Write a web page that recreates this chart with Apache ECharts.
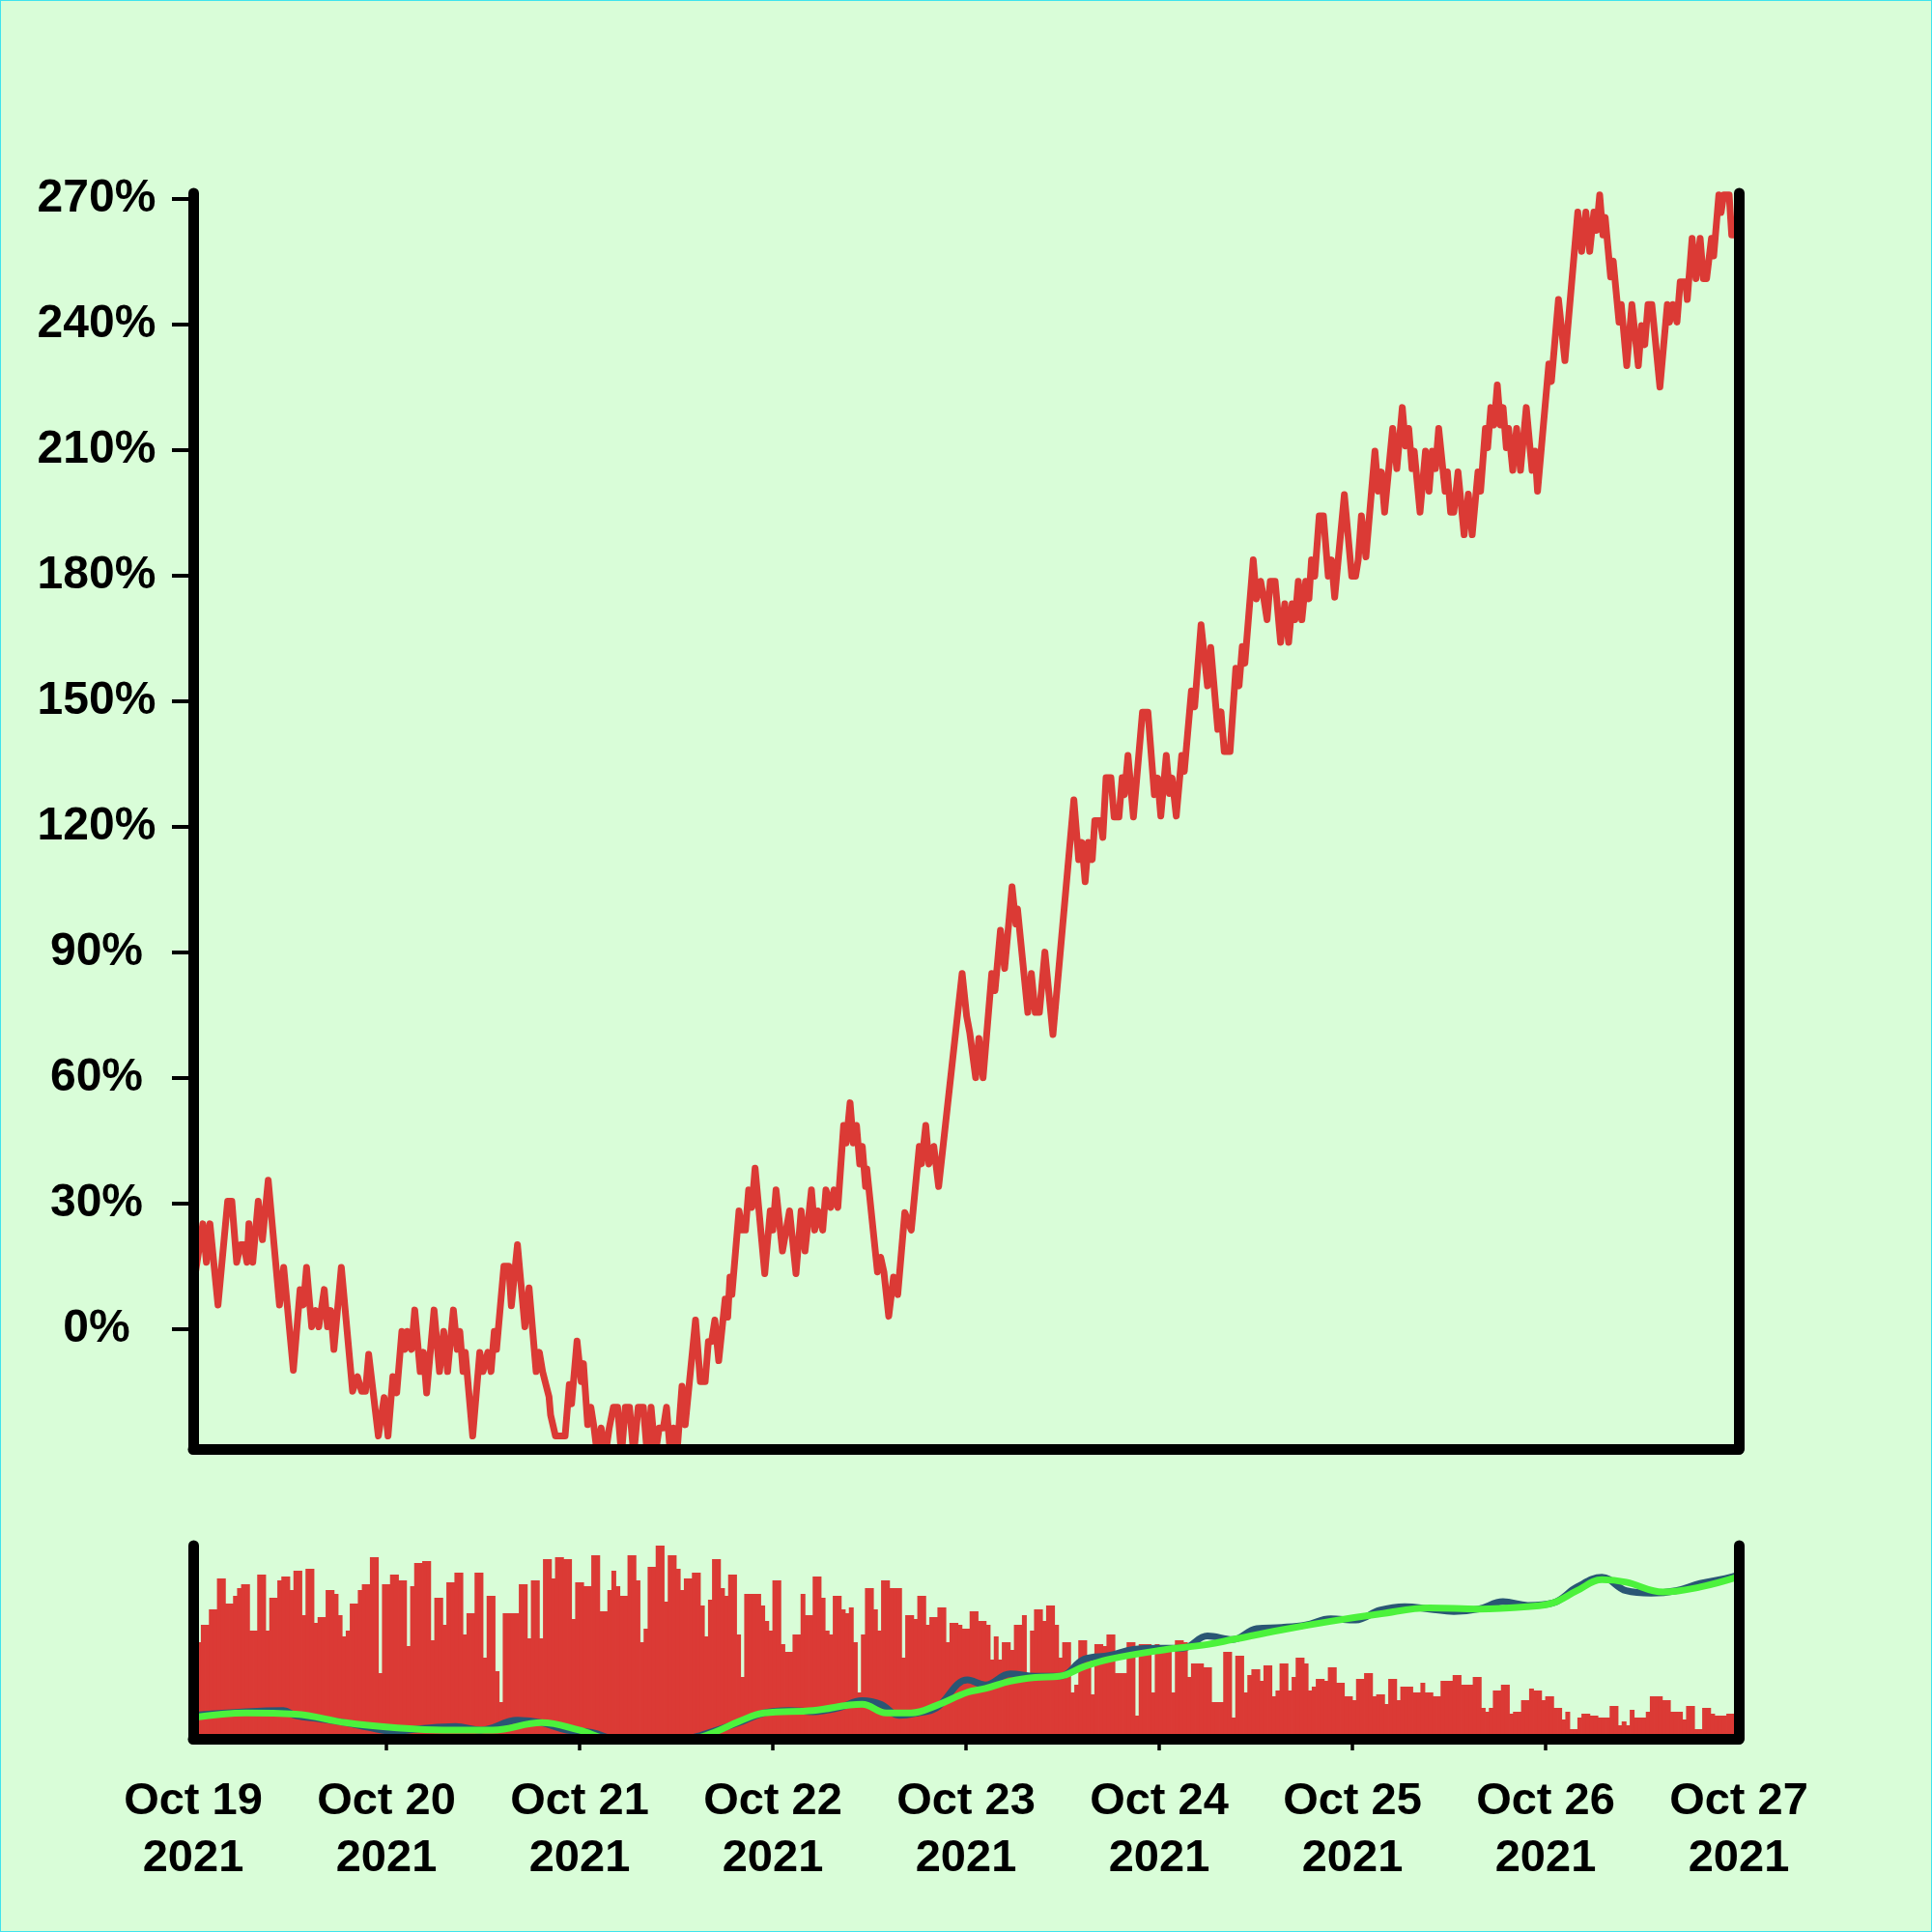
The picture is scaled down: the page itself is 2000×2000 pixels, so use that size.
<!DOCTYPE html>
<html><head><meta charset="utf-8">
<script src="https://cdn.jsdelivr.net/npm/echarts@6/dist/echarts.min.js"></script>
<style>
html,body{margin:0;padding:0;background:#d9fdd8;}
#c{position:absolute;left:0;top:0;width:2000px;height:2000px;}
#frame{position:absolute;left:0;top:0;width:2000px;height:2000px;box-sizing:border-box;border:1px solid #3fe3ee;pointer-events:none;}
</style>
</head><body><div id="c"></div><div id="frame"></div>
<script>
// x labels (one per day, value axis in hours since Oct 19 00:00)
const dayLabels = ['Oct 19\n2021','Oct 20\n2021','Oct 21\n2021','Oct 22\n2021','Oct 23\n2021','Oct 24\n2021','Oct 25\n2021','Oct 26\n2021','Oct 27\n2021'];
const xTickHours = [24,48,72,96,120,144,168];
const yTicks = [0,30,60,90,120,150,180,210,240,270];

// price (% change) as [hour, value], per day
const priceDay0 = [[0,10.0],[1.2,25.2],[1.64,16.0],[2.08,25.2],[3.08,5.8],[4.28,30.6],[4.8,30.6],[5.4,16.0],[5.88,20.2],[6.28,20.2],[6.68,16.0],[6.92,25.2],[7.4,16.0],[8.08,30.6],[8.6,21.4],[9.32,35.6],[10.72,5.8],[11.24,14.8],[12.44,-9.8],[13.28,9.5],[13.68,5.8],[14.08,14.8],[14.72,0.6],[15.2,4.5],[15.6,0.6],[16.28,9.5],[16.68,0.6],[17.08,4.5],[17.48,-4.8],[18.4,14.8],[19.8,-14.8],[20.4,-11.3],[20.92,-14.8],[21.4,-14.8],[21.8,-6.0],[23.0,-25.5],[23.72,-16.3]];
const priceDay1 = [[24.2,-25.5],[24.8,-11.3],[25.28,-15.2],[25.92,-0.5],[26.32,-4.8],[26.6,-0.5],[27.12,-4.8],[27.52,4.6],[28.2,-10.1],[28.6,-5.5],[29.0,-15.2],[29.92,4.6],[30.6,-10.1],[31.12,-0.5],[31.6,-10.1],[32.32,4.6],[32.8,-4.8],[33.12,-0.5],[33.52,-10.1],[33.8,-5.5],[34.72,-25.5],[35.6,-5.5],[36.0,-10.1],[36.6,-5.5],[37.0,-10.1],[37.4,-0.5],[37.68,-4.8],[38.6,15.1],[39.2,15.1],[39.52,5.6],[40.28,20.2],[41.2,0.6],[41.72,9.9],[42.6,-10.1],[43.0,-5.5],[43.4,-10.1],[44.2,-16.1],[44.4,-20.5],[45.0,-25.5],[46.2,-25.5],[46.72,-13.2],[47.0,-17.8],[47.68,-2.8]];
const priceDay2 = [[48.2,-12.5],[48.48,-8.2],[49.0,-22.8],[49.4,-18.6],[49.8,-23.6],[50.2,-30],[50.68,-23.6],[51.2,-30],[51.68,-23.6],[52.2,-18.6],[52.72,-18.6],[53.2,-30],[53.68,-18.6],[54.2,-18.6],[54.72,-30],[55.28,-18.6],[55.92,-18.6],[56.4,-30],[56.88,-18.6],[57.4,-30],[57.88,-23.6],[58.4,-23.6],[58.8,-18.6],[59.28,-30],[59.68,-23.6],[60.08,-30],[60.72,-13.6],[61.12,-22.8],[62.4,2.2],[63.0,-12.5],[63.6,-12.5],[64.0,-2.9],[64.4,-2.9],[64.8,2.2],[65.28,-7.5],[66.08,7.2],[66.4,2.9],[66.68,12.5],[66.92,8.3],[67.8,28.3],[68.2,23.7],[68.6,23.7],[69.0,33.3],[69.4,29.1],[69.8,38.5],[71.0,13.3],[71.68,28.3]];
const priceDay3 = [[72.0,23.7],[72.4,33.3],[73.2,18.7],[74.08,28.3],[74.88,13.3],[75.52,28.3],[76.0,18.7],[76.8,33.3],[77.2,23.7],[77.6,28.3],[78.2,23.7],[78.6,33.3],[79.2,29.1],[79.6,33.3],[80.08,29.1],[80.8,48.7],[81.12,44.5],[81.6,54.1],[82.0,44.5],[82.4,48.7],[82.8,39.5],[83.12,43.7],[83.52,34.1],[83.68,38.3],[85.0,13.7],[85.4,17.2],[85.8,13.7],[86.4,3.1],[87.0,12.5],[87.52,8.3],[88.4,27.9],[89.2,23.7],[90.2,43.7],[90.48,39.5],[91.0,48.7],[91.4,39.5],[92.0,43.7],[92.6,34.1],[95.52,85.0]];
const priceDay4 = [[96.08,74.8],[96.48,70.7],[97.2,60.1],[97.6,69.5],[98.12,60.1],[99.2,85.0],[99.6,80.9],[100.28,95.3],[100.8,86.2],[101.72,105.7],[102.2,96.8],[102.4,100.4],[103.68,75.7],[104.12,85.0],[104.6,75.7],[105.12,75.7],[105.8,90.1],[106.8,70.4],[109.4,126.5],[110.0,112.2],[110.4,116.3],[110.8,106.9],[111.2,116.3],[111.68,112.2],[112.0,121.5],[112.68,121.5],[113.0,117.5],[113.4,131.8],[114.0,131.8],[114.4,122.4],[115.0,122.4],[115.4,131.8],[115.68,127.7],[116.12,137.1],[116.8,122.4],[117.92,147.4],[118.6,147.4],[119.4,127.7]];
const priceDay5 = [[119.8,131.7],[120.2,122.6],[120.88,137.1],[121.28,128.0],[121.6,131.7],[122.12,122.6],[122.8,137.1],[123.12,133.3],[124.0,152.5],[124.4,148.7],[125.2,168.3],[126.0,153.7],[126.4,162.9],[127.28,143.3],[127.68,147.5],[128.08,138.0],[128.8,138.0],[129.52,157.9],[129.92,153.7],[130.32,163.1],[130.64,159.1],[131.68,183.8],[132.08,174.5],[132.6,178.7],[133.0,174.5],[133.4,169.5],[133.8,178.7],[134.4,178.7],[135.08,164.1],[135.6,173.3],[136.08,164.1],[136.52,173.3],[136.88,169.5],[137.28,178.7],[137.72,169.5],[138.2,178.7],[138.6,174.5],[138.92,183.8],[139.32,179.9],[139.88,194.3],[140.4,194.3],[141.0,179.9],[141.4,183.8],[141.8,174.9],[143.0,199.4]];
const priceDay6 = [[143.92,179.9],[144.4,179.9],[144.72,183.8],[145.12,194.3],[145.68,184.5],[146.8,209.8],[147.2,200.2],[147.6,204.8],[148.0,195.2],[149.0,215.2],[149.52,205.6],[150.2,220.2],[150.6,211.0],[151.0,215.2],[151.4,205.6],[151.68,209.8],[152.4,195.2],[153.08,209.8],[153.52,200.2],[153.92,209.8],[154.32,205.6],[154.72,215.2],[155.52,200.2],[155.8,204.8],[156.2,195.2],[156.6,195.2],[157.12,204.8],[157.88,189.8],[158.4,199.5],[158.88,189.8],[159.6,204.8],[159.92,200.2],[160.52,215.2],[160.8,210.6],[161.2,220.2],[161.6,216.0],[162.0,225.6],[162.4,216.0],[162.72,220.2],[163.12,210.6],[163.4,215.2],[163.92,205.2],[164.4,215.2],[164.88,205.2],[165.6,220.2],[166.32,205.2],[166.68,209.8],[167.0,200.2]];
const priceDay7 = [[168.4,230.6],[168.72,226.4],[169.6,246.0],[170.4,231.4],[172.0,266.9],[172.48,257.5],[173.0,266.9],[173.48,257.5],[174.0,266.9],[174.32,262.5],[174.72,271.0],[175.12,261.4],[175.4,265.6],[176.08,251.4],[176.4,255.2],[177.12,240.6],[177.4,244.8],[178.08,230.2],[178.72,244.8],[179.52,230.2],[179.92,239.8],[180.32,235.2],[180.72,244.8],[181.2,244.8],[182.2,225.1],[183.12,244.8],[183.4,240.6],[183.8,244.8],[184.32,240.6],[184.72,250.2],[185.4,250.2],[185.6,246.0],[186.2,260.6],[186.68,251.0],[187.2,260.6],[187.6,251.0],[188.0,251.0],[188.6,260.6],[188.88,256.4],[189.52,271.0],[189.8,266.8],[190.12,271.0],[190.8,271.0],[191.12,261.4],[192.0,261.4]];

// volume, one bar per half hour (relative height, 100 = panel top), per day
const volDay0 = [50,50,59,59,67,67,83,83,70,70,74,78,80,80,56,56,85,85,56,73,73,82,84,84,77,87,87,64,88,88,60,63,63,77,77,75,64,53,56,70,70,77,80,80,94,94,34,80];
const volDay1 = [80,85,85,82,82,48,79,91,91,92,92,51,73,73,59,81,81,86,86,54,65,65,86,86,42,74,74,35,19,65,65,65,65,80,80,52,82,82,52,93,93,83,94,94,93,93,62,81];
const volDay2 = [81,79,79,95,95,66,66,77,87,79,74,74,95,95,82,50,57,89,89,100,100,71,95,95,88,77,83,83,86,86,69,53,72,93,93,78,74,85,85,54,32,75,75,75,75,69,61,56];
const volDay3 = [82,82,49,45,45,54,54,75,64,64,84,84,73,56,54,74,74,67,65,68,50,24,54,78,78,67,56,82,82,78,78,78,42,64,64,62,74,74,59,63,63,68,68,50,60,60,59,57];
const volDay4 = [57,66,66,61,61,59,41,53,41,50,50,46,59,59,64,34,56,67,67,61,69,69,59,42,50,50,24,28,51,51,42,23,49,49,48,54,54,34,34,34,50,50,12,49,49,49,24,49];
const volDay5 = [48,48,48,24,51,51,50,32,39,39,39,37,37,19,19,19,45,45,11,43,43,24,33,36,36,30,38,38,22,25,39,39,25,32,42,42,39,25,27,31,31,30,37,37,29,29,22,22];
const volDay6 = [20,31,31,34,34,22,23,23,18,31,31,20,27,27,27,24,24,29,24,24,22,22,30,30,30,33,33,28,28,28,32,32,16,14,16,25,25,28,28,13,14,14,20,20,26,25,25,20];
const volDay7 = [22,22,16,16,10,14,5,5,11,13,13,12,12,11,11,11,17,17,7,9,7,15,11,11,11,14,22,22,22,20,20,14,14,14,10,17,17,5,5,16,16,13,12,12,12,13,13,13];

// moving-average style lines of the lower panel, [hour, value %]
const maFast = [[0,17.0],[6.6,23.6],[11.2,25.8],[12.7,17.0],[15.8,10.4],[18.9,3.8],[21.9,-5.1],[25.0,-11.7],[28.0,-7.3],[32.6,-2.9],[35.7,-9.5],[40.3,8.2],[43.3,3.8],[46.4,-9.5],[49.5,-13.9],[53,-28],[58,-30],[61,-27],[63.2,-18.3],[67.8,3.8],[70.9,21.4],[74.0,25.8],[77.0,23.6],[80.1,30.2],[83.1,43.5],[85.4,36.9],[87.7,17.0],[90.0,21.4],[92.3,30.2],[96.2,81.0],[98.4,72.2],[101.5,92.1],[104.6,87.6],[107.6,87.6],[110.7,118.5],[113.8,125.2],[116.8,136.2],[119.9,138.4],[122.9,138.4],[126.0,160.5],[129.1,153.9],[132.1,173.7],[135.2,175.9],[138.2,180.4],[141.3,191.4],[144.4,189.2],[147.4,206.8],[150.5,213.5],[153.6,209.1],[156.6,204.6],[159.7,209.1],[162.7,222.3],[165.8,215.7],[168.9,220.1],[171.9,248.8],[175.0,266.4],[178.0,242.2],[181.1,237.8],[184.2,242.2],[187.2,255.4],[190.3,264.2],[192,270.9]];
const maSlow = [[0,13.0],[6.6,21.4],[12.7,19.2],[18.9,3.8],[25.0,-5.1],[31.1,-9.5],[37.2,-9.5],[43.3,3.8],[47.9,-9.5],[52,-27],[58,-30],[62,-26],[64.7,-13.9],[67.8,6.0],[70.9,21.4],[77.0,25.8],[83.1,36.9],[86.1,21.4],[89.2,21.4],[92.3,34.7],[96.2,59.0],[98.4,65.6],[101.5,78.8],[104.6,85.4],[107.6,87.6],[110.7,105.3],[113.8,118.5],[119.9,134.0],[126.0,145.0],[129.1,153.9],[135.2,171.5],[141.3,187.0],[147.4,200.2],[153.6,211.2],[159.7,209.1],[165.8,213.5],[168.9,220.1],[171.9,242.2],[175.0,262.0],[178.0,257.6],[182.6,240.0],[187.2,248.8],[192,267.5]];

const RED = '#db3a35', BLUE = '#2a5674', GREEN = '#4cf23c', BG = '#d9fdd8';

const priceData = [].concat(priceDay0, priceDay1, priceDay2, priceDay3, priceDay4, priceDay5, priceDay6, priceDay7);
const volAll = [].concat(volDay0, volDay1, volDay2, volDay3, volDay4, volDay5, volDay6, volDay7);
const volData = volAll.map((v, i) => [(i + 0.5) * 0.5, v]);

const axisLineStyle = {color:'#000', width:11, cap:'round'};
const plainY = (grid, pos, min, max) => ({
  gridIndex: grid, type:'value', position: pos, min: min, max: max, z: 10,
  axisLine:{show:true, onZero:false, lineStyle: axisLineStyle},
  axisTick:{show:false}, axisLabel:{show:false}, splitLine:{show:false}
});

const chart = echarts.init(document.getElementById('c'), null, {renderer:'canvas', width:2000, height:2000});
chart.setOption({
  animation: false,
  backgroundColor: BG,
  grid: [
    {left:200, right:200, top:200, height:1300},
    {left:200, right:200, top:1600, height:200}
  ],
  xAxis: [
    {gridIndex:0, type:'value', min:0, max:192, interval:24, z:10,
     axisLine:{show:true, onZero:false, lineStyle: axisLineStyle},
     axisTick:{show:false}, axisLabel:{show:false}, splitLine:{show:false}},
    {gridIndex:1, type:'value', min:0, max:192, interval:24, z:10,
     axisLine:{show:true, onZero:false, lineStyle: axisLineStyle},
     axisTick:{show:true, customValues: xTickHours, length:12, lineStyle:{color:'#000', width:3.5}},
     axisLabel:{show:true, showMinLabel:true, showMaxLabel:true, margin:36,
       fontFamily:'Liberation Sans', fontWeight:'bold', fontSize:47, lineHeight:59, color:'#000',
       formatter: v => dayLabels[Math.round(v / 24)]},
     splitLine:{show:false}}
  ],
  yAxis: [
    {gridIndex:0, type:'value', position:'left', min:-28.6, max:271.4, z:10,
     axisLine:{show:true, onZero:false, lineStyle: axisLineStyle},
     axisTick:{show:true, customValues: yTicks, length:22, lineStyle:{color:'#000', width:4}},
     axisLabel:{show:true, customValues: yTicks, formatter:'{value}%', margin:100, align:'center',
       fontFamily:'Liberation Sans', fontWeight:'bold', fontSize:48, color:'#000'},
     splitLine:{show:false}},
    plainY(0, 'right', -28.6, 271.4),
    plainY(1, 'left', 0, 100),
    plainY(1, 'right', -25.3, 323.7)
  ],
  series: [
    {type:'bar', xAxisIndex:1, yAxisIndex:2, data: volData, barWidth: 5,
     itemStyle:{color: RED}, silent:true, z:1},
    {type:'line', xAxisIndex:1, yAxisIndex:3, data: maFast, smooth:0.4, showSymbol:false,
     lineStyle:{color: BLUE, width:7, join:'round', cap:'round'}, z:2},
    {type:'line', xAxisIndex:1, yAxisIndex:3, data: maSlow, smooth:0.4, showSymbol:false,
     lineStyle:{color: GREEN, width:7, join:'round', cap:'round'}, z:3},
    {type:'line', xAxisIndex:0, yAxisIndex:0, data: priceData, showSymbol:false,
     lineStyle:{color: RED, width:7, join:'round', cap:'round'}, z:2}
  ]
});
</script></body></html>
